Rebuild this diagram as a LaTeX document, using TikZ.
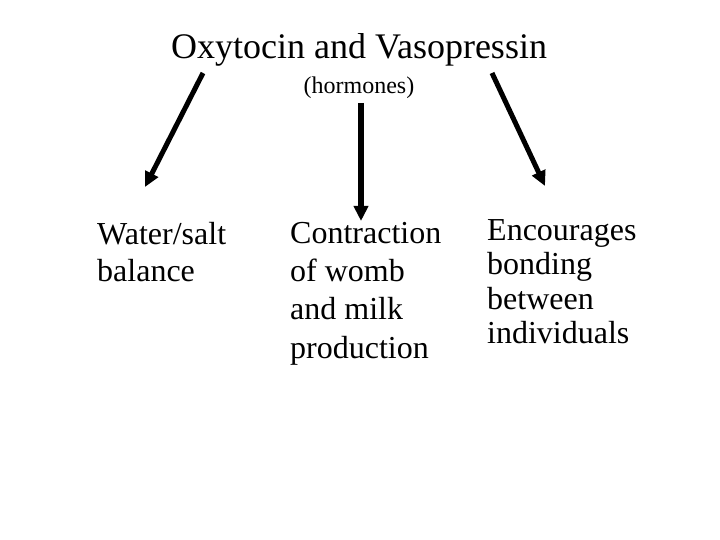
\documentclass[tikz,border=0pt]{standalone}
\usepackage{fontspec}
\setmainfont{Liberation Serif}
\usetikzlibrary{arrows.meta}
\begin{document}
\begin{tikzpicture}[x=1pt,y=-1pt,
  lbl/.style={anchor=north west,inner sep=0pt,align=left,font=\fontsize{32}{37.5}\selectfont},
  hormarrow/.style={line width=5pt,-{Triangle[length=15pt,width=14pt]}}]
\useasboundingbox (0,0) rectangle (720,540);
\node[anchor=base,inner sep=0pt,font=\fontsize{36}{40}\selectfont] (title) at (359,59) {Oxytocin and Vasopressin};
\node[anchor=base,inner sep=0pt,font=\fontsize{24}{28}\selectfont] (sub) at (359,94) {(hormones)};
\coordinate (ls) at (203,73);
\coordinate (lt) at (145,187);
\coordinate (ms) at (361,103);
\coordinate (mt) at (361,221);
\coordinate (rs) at (492,73);
\coordinate (rt) at (545,186);
\draw[hormarrow] (ls) -- (lt);
\draw[hormarrow,line width=6pt] (ms) -- (mt);
\draw[hormarrow] (rs) -- (rt);
\node[lbl] (water) at (97,222) {Water/salt\\balance};
\node[lbl,font=\fontsize{32}{38.3}\selectfont] (contr) at (290,222) {Contraction\\of womb\\and milk\\production};
\node[lbl,font=\fontsize{32}{34.5}\selectfont] (enc) at (487,219) {Encourages\\bonding\\between\\individuals};
\end{tikzpicture}
\end{document}
